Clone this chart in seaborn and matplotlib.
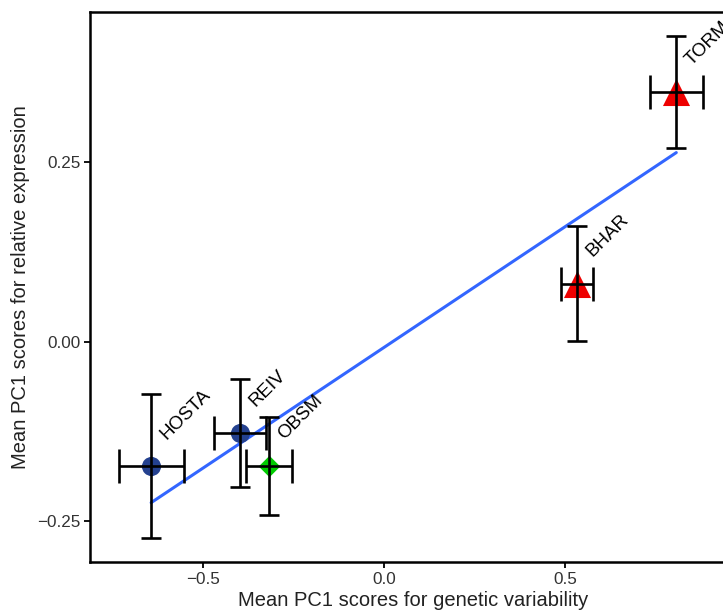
import numpy as np
import pandas as pd
import seaborn as sns
import matplotlib
matplotlib.use("Agg")
import matplotlib.pyplot as plt

# Mean PC1 scores per population with their spread
populations = ["HOSTA", "REIV", "OBSM", "BHAR", "TORM"]
genetic_pc1 = [-0.644, -0.398, -0.318, 0.533, 0.807]
genetic_err = [0.090, 0.072, 0.063, 0.044, 0.073]
expression_pc1 = [-0.173, -0.127, -0.173, 0.081, 0.348]
expression_err = [0.100, 0.075, 0.068, 0.080, 0.078]
groups = ["Group A", "Group A", "Group B", "Group C", "Group C"]

df = pd.DataFrame({
    "population": populations,
    "genetic": genetic_pc1,
    "genetic_err": genetic_err,
    "expression": expression_pc1,
    "expression_err": expression_err,
    "group": groups,
})

sns.set_theme(style="white")
plt.rcParams["font.family"] = ["Liberation Sans", "DejaVu Sans"]

fig = plt.figure(figsize=(7.23, 6.12), dpi=100)
ax = fig.add_axes([90 / 723, 50 / 612, 646 / 723, 550 / 612])

# error bars: vertical and horizontal drawn with separate cap sizes
ax.errorbar(df["genetic"], df["expression"], yerr=df["expression_err"],
            fmt="none", ecolor="black", elinewidth=1.9, capsize=7,
            capthick=1.9, zorder=3)
ax.errorbar(df["genetic"], df["expression"], xerr=df["genetic_err"],
            fmt="none", ecolor="black", elinewidth=1.9, capsize=12.5,
            capthick=1.9, zorder=3)

# linear fit across population means
sns.regplot(data=df, x="genetic", y="expression", ci=None, scatter=False,
            truncate=True, color="#3366FF", line_kws={"linewidth": 2.2,
                                                      "zorder": 2}, ax=ax)

palette = {"Group A": "#24418F", "Group B": "#00CC00", "Group C": "#EE0000"}
markers = {"Group A": "o", "Group B": "D", "Group C": "^"}
sizes = {"Group A": 190, "Group B": 120, "Group C": 380}
for g, sub in df.groupby("group"):
    sns.scatterplot(data=sub, x="genetic", y="expression", color=palette[g],
                    marker=markers[g], s=sizes[g], linewidth=0, ax=ax,
                    zorder=2.5, legend=False)

for _, r in df.iterrows():
    ax.annotate(r["population"], (r["genetic"], r["expression"]),
                xytext=(13, 17), textcoords="offset points", rotation=45,
                rotation_mode="anchor", ha="left", va="bottom",
                fontsize=13.5, color="black", zorder=4)

ax.set_xlim(-0.813, 0.972)
ax.set_ylim(-0.3065, 0.4595)
ax.set_xticks([-0.5, 0.0, 0.5])
ax.set_xticklabels(["\u22120.5", "0.0", "0.5"])
ax.set_yticks([-0.25, 0.0, 0.25])
ax.set_yticklabels(["\u22120.25", "0.00", "0.25"])
ax.tick_params(axis="both", which="major", length=4, width=1.3,
               color="black", labelsize=12.3, labelcolor="#333333",
               bottom=True, left=True, pad=3)
for sp in ax.spines.values():
    sp.set_color("black")
    sp.set_linewidth(1.8)

ax.set_xlabel("Mean PC1 scores for genetic variability", fontsize=14.5,
              color="#222222", labelpad=3)
ax.set_ylabel("Mean PC1 scores for relative expression", fontsize=14.5,
              color="#222222", labelpad=5)

fig.savefig("out.png", dpi=100)
